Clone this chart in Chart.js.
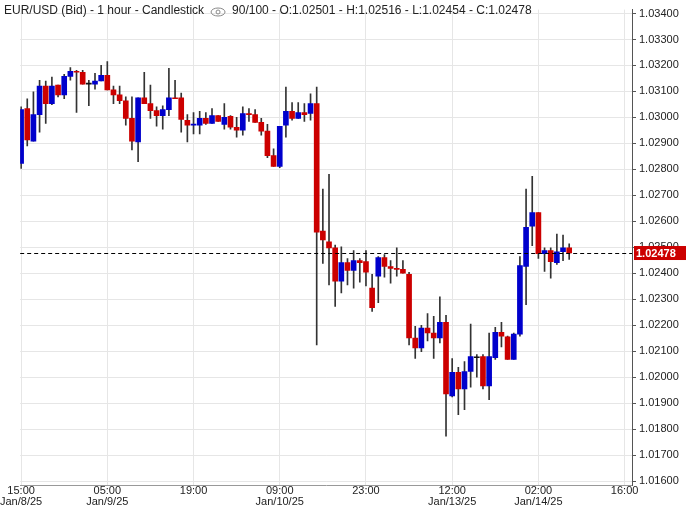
<!DOCTYPE html>
<html>
<head>
<meta charset="utf-8">
<script src="https://cdn.jsdelivr.net/npm/chart.js@4/dist/chart.umd.min.js"></script>
<style>
  body { margin: 0; background: #fff; }
  #wrap { width: 686px; height: 508px; }
</style>
</head>
<body>
<div id="wrap"><canvas id="c"></canvas></div>
<script>
// hourly candles, first one is Jan/8/25 15:00
const opens = [1.02823,1.03034,1.02909,1.03011,1.03121,1.03053,1.03124,1.03087,1.03158,1.03177,
  1.03174,1.03128,1.03128,1.03140,1.03162,1.03106,1.03087,1.03064,1.02996,1.02906,
  1.03075,1.03053,1.03026,1.03007,1.03030,1.03075,1.03075,1.02989,1.02970,1.02970,
  1.02996,1.02977,1.03007,1.02973,1.03004,1.02962,1.02951,1.03015,1.03011,1.02981,
  1.02947,1.02853,1.02811,1.02970,1.03023,1.02996,1.03019,1.03015,1.03053,1.02562,
  1.02521,1.02498,1.02370,1.02441,1.02411,1.02449,1.02445,1.02343,1.02389,1.02460,
  1.02426,1.02419,1.02415,1.02396,1.02151,1.02113,1.02189,1.02170,1.02151,1.02211,
  1.01928,1.02019,1.01955,1.02022,1.02075,1.02079,1.01966,1.02075,1.02173,1.02155,
  1.02068,1.02166,1.02426,1.02581,1.02634,1.02475,1.02487,1.02441,1.02483,1.02498];
const highs = [1.03041,1.03072,1.03098,1.03143,1.03140,1.03155,1.03124,1.03166,1.03192,1.03181,
  1.03181,1.03143,1.03170,1.03200,1.03215,1.03121,1.03121,1.03079,1.03079,1.03075,
  1.03174,1.03124,1.03041,1.03045,1.03189,1.03143,1.03094,1.03011,1.03019,1.03023,
  1.03019,1.03034,1.03007,1.03053,1.03007,1.03000,1.03041,1.03034,1.03030,1.02996,
  1.02973,1.02879,1.02966,1.03117,1.03057,1.03057,1.03053,1.03091,1.03117,1.02724,
  1.02781,1.02509,1.02502,1.02457,1.02487,1.02457,1.02487,1.02396,1.02464,1.02472,
  1.02449,1.02498,1.02449,1.02404,1.02196,1.02200,1.02245,1.02234,1.02309,1.02238,
  1.02072,1.02038,1.02060,1.02204,1.02087,1.02087,1.02170,1.02192,1.02211,1.02158,
  1.02170,1.02464,1.02724,1.02773,1.02634,1.02498,1.02498,1.02551,1.02547,1.02513];
const lows = [1.02804,1.02890,1.02909,1.02943,1.02977,1.03049,1.03079,1.03072,1.03143,1.03019,
  1.03128,1.03045,1.03109,1.03140,1.03106,1.03053,1.03053,1.02970,1.02875,1.02830,
  1.03053,1.02996,1.02966,1.02955,1.03007,1.03075,1.02943,1.02906,1.02936,1.02936,
  1.02973,1.02977,1.02985,1.02955,1.02955,1.02924,1.02932,1.02985,1.02981,1.02932,
  1.02845,1.02811,1.02807,1.02924,1.02989,1.02996,1.02985,1.02989,1.02124,1.02438,
  1.02355,1.02272,1.02324,1.02355,1.02343,1.02366,1.02351,1.02253,1.02287,1.02385,
  1.02362,1.02389,1.02400,1.02124,1.02072,1.02098,1.02140,1.02072,1.02132,1.01773,
  1.01924,1.01856,1.01875,1.01962,1.02000,1.01955,1.01913,1.02068,1.02117,1.02068,
  1.02068,1.02158,1.02279,1.02506,1.02457,1.02407,1.02381,1.02434,1.02449,1.02453];
const closes = [1.03030,1.02913,1.03011,1.03121,1.03053,1.03121,1.03087,1.03158,1.03177,1.03174,
  1.03128,1.03128,1.03140,1.03162,1.03106,1.03087,1.03064,1.02996,1.02909,1.03075,
  1.03053,1.03026,1.03007,1.03030,1.03075,1.03072,1.02992,1.02970,1.02973,1.02996,
  1.02977,1.03007,1.02985,1.03000,1.02962,1.02951,1.03015,1.03011,1.02981,1.02947,
  1.02853,1.02811,1.02966,1.03023,1.02996,1.03019,1.03011,1.03053,1.02558,1.02528,
  1.02498,1.02370,1.02441,1.02411,1.02449,1.02441,1.02404,1.02268,1.02460,1.02426,
  1.02419,1.02415,1.02400,1.02151,1.02113,1.02189,1.02170,1.02151,1.02211,1.01936,
  1.02019,1.01955,1.02022,1.02079,1.02075,1.01966,1.02079,1.02173,1.02158,1.02068,
  1.02166,1.02430,1.02577,1.02634,1.02475,1.02487,1.02445,1.02483,1.02498,1.02478];

const timeTicks = [0, 14, 28, 42, 56, 70, 84, 98];
const timeLabels = [['15:00', 'Jan/8/25'], ['05:00', 'Jan/9/25'], ['19:00', ''], ['09:00', 'Jan/10/25'],
  ['23:00', ''], ['12:00', 'Jan/13/25'], ['02:00', 'Jan/14/25'], ['16:00', '']];
const priceTicks = [1.016, 1.017, 1.018, 1.019, 1.020, 1.021, 1.022, 1.023, 1.024, 1.025,
  1.026, 1.027, 1.028, 1.029, 1.030, 1.031, 1.032, 1.033, 1.034];
const lastPrice = 1.02478;
const title = 'EUR/USD (Bid) - 1 hour - Candlestick';
const titleRest = '90/100 - O:1.02501 - H:1.02516 - L:1.02454 - C:1.02478';

const UP = '#0000cc', DOWN = '#cc0000', FLAT = '#111';
const candleColor = opens.map((o, i) => closes[i] > o ? UP : (closes[i] < o ? DOWN : FLAT));

const overlay = {
  id: 'overlay',
  afterDatasetsDraw(chart) {
    const { ctx, scales: { y }, chartArea } = chart;
    const py = y.getPixelForValue(lastPrice);
    ctx.save();
    ctx.strokeStyle = '#000';
    ctx.setLineDash([4, 3]);
    ctx.lineWidth = 1;
    ctx.beginPath();
    ctx.moveTo(chartArea.left, Math.round(py) + 0.5);
    ctx.lineTo(chartArea.right, Math.round(py) + 0.5);
    ctx.stroke();
    ctx.setLineDash([]);
    ctx.fillStyle = '#cc0000';
    ctx.fillRect(chartArea.right + 2, py - 7, 52, 14);
    ctx.fillStyle = '#fff';
    ctx.font = 'bold 11px "Liberation Sans", Arial';
    ctx.textBaseline = 'middle';
    ctx.fillText(lastPrice.toFixed(5), chartArea.right + 4, py + 0.5);

    ctx.fillStyle = '#222';
    ctx.font = '12px "Liberation Sans", Arial';
    ctx.textBaseline = 'middle';
    ctx.fillText(title, 4, 11);
    const w = ctx.measureText(title).width;
    const ex = 4 + w + 14;
    ctx.strokeStyle = '#888';
    ctx.beginPath();
    ctx.ellipse(ex, 12, 7, 4, 0, 0, Math.PI * 2);
    ctx.stroke();
    ctx.beginPath();
    ctx.arc(ex, 12, 2, 0, Math.PI * 2);
    ctx.stroke();
    ctx.fillText(titleRest, ex + 14, 11);
    ctx.restore();
  }
};

new Chart(document.getElementById('c'), {
  type: 'bar',
  data: {
    datasets: [
      {
        label: 'wick',
        data: lows.map((l, i) => ({ x: i, y: [l, highs[i]] })),
        backgroundColor: '#333',
        barThickness: 1,
        grouped: false,
        order: 2
      },
      {
        label: 'body',
        data: opens.map((o, i) => ({ x: i, y: [o, closes[i]] })),
        backgroundColor: candleColor,
        barThickness: 5,
        minBarLength: 1,
        grouped: false,
        order: 1
      }
    ]
  },
  plugins: [overlay],
  options: {
    responsive: true,
    maintainAspectRatio: false,
    animation: false,
    layout: { padding: { top: -9, left: 0, right: 0, bottom: 0 } },
    plugins: { legend: { display: false }, tooltip: { enabled: false } },
    scales: {
      x: {
        type: 'linear',
        offset: false,
        min: -0.15,
        max: 99.2,
        afterBuildTicks: (s) => { s.ticks = timeTicks.map(v => ({ value: v })); },
        afterFit: (s) => { s.height = 23; },
        ticks: {
          autoSkip: false,
          maxRotation: 0,
          padding: 0,
          color: '#222',
          font: { size: 11, family: '"Liberation Sans", Arial', lineHeight: 1 },
          callback: (v) => timeLabels[timeTicks.indexOf(v)] || ''
        },
        grid: { color: '#e6e6e6', drawTicks: false, offset: false },
        border: { color: '#999' }
      },
      y: {
        position: 'right',
        min: 1.01585,
        max: 1.03415,
        afterBuildTicks: (s) => { s.ticks = priceTicks.map(v => ({ value: v })); },
        afterFit: (s) => { s.width = 54; },
        ticks: {
          color: '#222',
          padding: 3,
          font: { size: 11, family: '"Liberation Sans", Arial' },
          callback: (v) => v.toFixed(5)
        },
        grid: { color: '#e6e6e6', tickLength: 4, tickColor: '#555' },
        border: { color: '#555' }
      }
    }
  }
});
</script>
</body>
</html>
